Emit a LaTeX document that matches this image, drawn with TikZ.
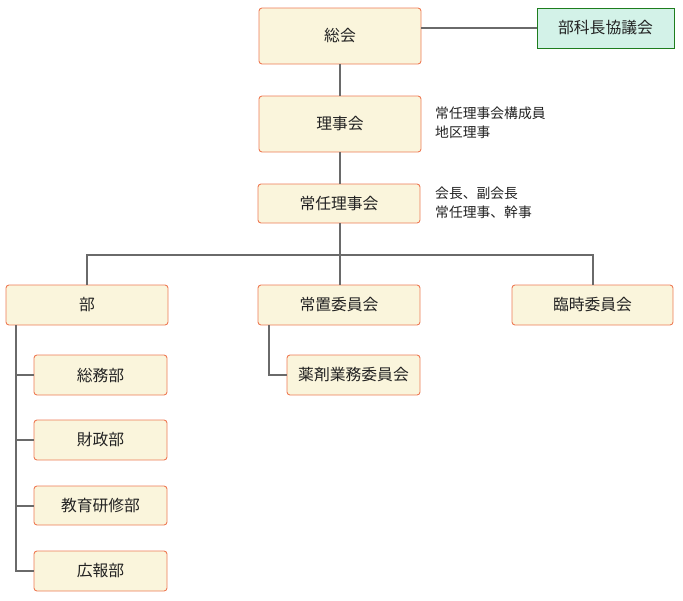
\documentclass[tikz,border=0pt]{standalone}
\usepackage{fontspec}
\setmainfont{Noto Sans CJK JP}
\definecolor{boxfill}{HTML}{FAF5DC}
\definecolor{boxline}{HTML}{EE7B55}
\definecolor{gfill}{HTML}{D3F2E8}
\definecolor{gline}{HTML}{1E7D1E}
\definecolor{conn}{HTML}{6A6A6A}
\definecolor{txt}{HTML}{222222}
\begin{document}
\begin{tikzpicture}[x=1pt,y=-1pt,
  orgbox/.style={draw=boxline,fill=boxfill,rounded corners=3pt,line width=0.9pt,inner sep=0pt,
    text=txt,font=\fontsize{15.8}{17}\selectfont},
  greenbox/.style={draw=gline,fill=gfill,line width=0.9pt,inner sep=0pt,text=txt,
    font=\fontsize{15.8}{17}\selectfont},
  note/.style={anchor=west,inner sep=0pt,text=txt,font=\fontsize{13.8}{15}\selectfont},
  link/.style={draw=conn,line width=2pt}]
\useasboundingbox (0,0) rectangle (683,600);
\node[orgbox,minimum width=162pt,minimum height=56pt] (soukai) at (340,36) {総会};
\node[greenbox,minimum width=137pt,minimum height=40pt] (buka) at (605.5,28) {部科長協議会};
\node[orgbox,minimum width=162pt,minimum height=56pt] (rijikai) at (340,124) {理事会};
\node[orgbox,minimum width=162pt,minimum height=39pt] (jonin) at (339,203.5) {常任理事会};
\node[note] (n1) at (435,113) {常任理事会構成員};
\node[note] (n2) at (435,132) {地区理事};
\node[note] (n3) at (435,193) {会長、副会長};
\node[note] (n4) at (435,212) {常任理事、幹事};
\node[orgbox,minimum width=162pt,minimum height=40pt] (bu) at (87,305) {部};
\node[orgbox,minimum width=162pt,minimum height=40pt] (jochi) at (339,305) {常置委員会};
\node[orgbox,minimum width=161pt,minimum height=40pt] (rinji) at (592.5,305) {臨時委員会};
\node[orgbox,minimum width=133pt,minimum height=40pt] (yaku) at (353.5,375) {薬剤業務委員会};
\node[orgbox,minimum width=133pt,minimum height=40pt] (soumu) at (100.5,375) {総務部};
\node[orgbox,minimum width=133pt,minimum height=40pt] (zaisei) at (100.5,440) {財政部};
\node[orgbox,minimum width=133pt,minimum height=39pt] (kyoiku) at (100.5,505.5) {教育研修部};
\node[orgbox,minimum width=133pt,minimum height=40pt] (kouhou) at (100.5,571) {広報部};
\coordinate (bus) at (340,255);
\coordinate (busl) at (87,255);
\coordinate (busr) at (592.5,255);
\draw[link] (soukai.east |- buka.west) -- (buka.west);
\draw[link] (soukai.south) -- (rijikai.south |- soukai.south) -- (rijikai.north);
\draw[link] (rijikai.south) -- (rijikai.south |- jonin.north);
\draw[link] (jonin.south -| bus) -- (bus);
\draw[link] (bu.north) |- (busl) -- (busr) -- (rinji.north);
\draw[link] (bus) -- (bus |- jochi.north);
\draw[link] (jochi.south -| 269,0) |- (yaku.west);
\draw[link] (bu.south -| 16,0) |- (kouhou.west);
\draw[link] (soumu.west -| 16,0) -- (soumu.west);
\draw[link] (zaisei.west -| 16,0) -- (zaisei.west);
\draw[link] (kyoiku.west -| 16,0) -- (kyoiku.west);
\end{tikzpicture}
\end{document}
